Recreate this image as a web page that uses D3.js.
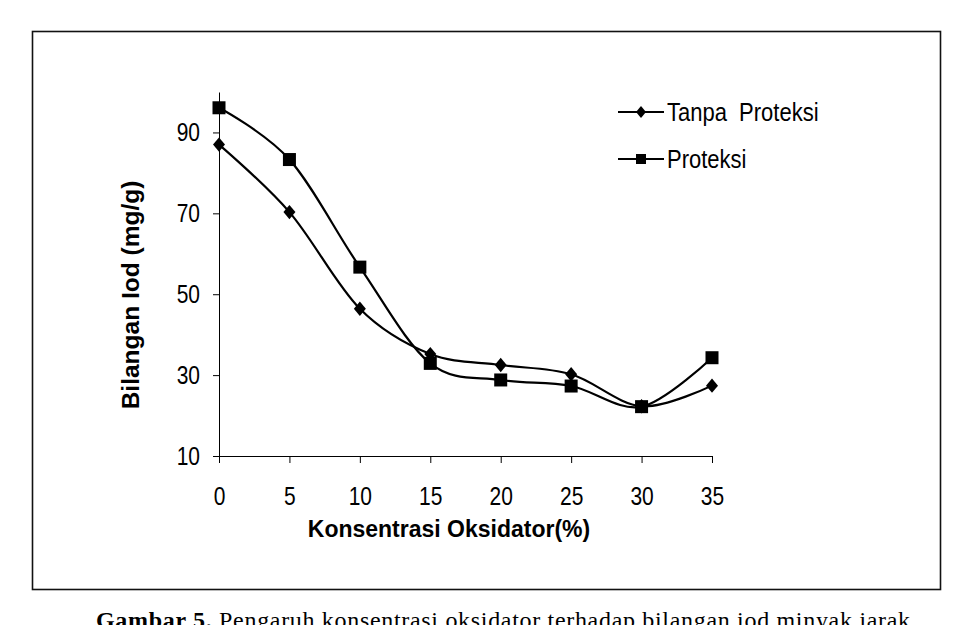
<!DOCTYPE html>
<html>
<head>
<meta charset="utf-8">
<script src="https://cdn.jsdelivr.net/npm/d3@7/dist/d3.min.js"></script>
<style>
  body { margin: 0; background: #fff; }
  svg { display: block; }
  text { font-family: Arial, "Liberation Sans", sans-serif; fill: #000; }
</style>
</head>
<body>
<div id="chart"></div>
<script>
// data
var konsentrasi = [0, 5, 10, 15, 20, 25, 30, 35];
var tanpaProteksi = [87.0, 70.3, 46.4, 35.2, 32.5, 30.2, 22.3, 27.4];
var proteksi = [96.1, 83.3, 56.7, 32.9, 28.8, 27.3, 22.2, 34.3];
var yTicks = [10, 30, 50, 70, 90];
var xTicks = [0, 5, 10, 15, 20, 25, 30, 35];
var seriesNames = ["Tanpa  Proteksi", "Proteksi"];

var width = 968, height = 625;
var plot = {left: 219, right: 712, top: 92, bottom: 456};
var squeeze = 0.84; // the original text is tall and a bit condensed

var svg = d3.select("#chart").append("svg")
  .attr("width", width)
  .attr("height", height);

// outer frame
svg.append("rect")
  .attr("x", 32.5).attr("y", 31.5)
  .attr("width", 908).attr("height", 558)
  .attr("fill", "none")
  .attr("stroke", "#111")
  .attr("stroke-width", 1.6);

var x = d3.scaleLinear().domain([0, 35]).range([plot.left, plot.right]);
var y = d3.scaleLinear().domain([10, 100]).range([plot.bottom, plot.top]);

// y axis
var yAxis = svg.append("g")
  .attr("transform", "translate(" + plot.left + ",0)")
  .call(d3.axisLeft(y).tickValues(yTicks).tickSize(6).tickPadding(13).tickSizeOuter(0));
yAxis.select(".domain").attr("stroke", "#000");
yAxis.selectAll(".tick line").attr("stroke", "#000");
yAxis.selectAll(".tick text")
  .attr("font-size", 25)
  .attr("x", null)
  .attr("transform", "translate(-19,0) scale(" + squeeze + ",1)");

// x axis
var xAxis = svg.append("g")
  .attr("transform", "translate(0," + plot.bottom + ")")
  .call(d3.axisBottom(x).tickValues(xTicks).tickSize(7).tickPadding(24).tickSizeOuter(0));
xAxis.select(".domain").attr("stroke", "#000");
xAxis.selectAll(".tick line").attr("stroke", "#000");
xAxis.selectAll(".tick text")
  .attr("font-size", 25)
  .attr("transform", "scale(" + squeeze + ",1)");

// axis titles
svg.append("text")
  .attr("x", 449)
  .attr("y", 537)
  .attr("text-anchor", "middle")
  .attr("font-size", 23)
  .attr("font-weight", "bold")
  .text("Konsentrasi Oksidator(%)");

svg.append("text")
  .attr("transform", "translate(139,295) rotate(-90)")
  .attr("text-anchor", "middle")
  .attr("font-size", 24.5)
  .attr("font-weight", "bold")
  .text("Bilangan Iod (mg/g)");

// smoothed lines, like the spreadsheet's smoothing
var line = d3.line()
  .x(function(d) { return x(d[0]); })
  .y(function(d) { return y(d[1]); })
  .curve(d3.curveCatmullRom.alpha(0));

var series = [
  {name: seriesNames[0], values: tanpaProteksi, shape: "diamond"},
  {name: seriesNames[1], values: proteksi, shape: "square"}
];

function marker(g, shape, cx, cy, s) {
  if (shape === "diamond") {
    g.append("path")
      .attr("d", "M" + cx + "," + (cy - s * 0.6) + "L" + (cx + s * 0.5) + "," + cy +
        "L" + cx + "," + (cy + s * 0.6) + "L" + (cx - s * 0.5) + "," + cy + "Z")
      .attr("fill", "#000");
  } else {
    g.append("rect")
      .attr("x", cx - s / 2).attr("y", cy - s / 2)
      .attr("width", s).attr("height", s)
      .attr("fill", "#000");
  }
}

series.forEach(function(s) {
  var pts = konsentrasi.map(function(k, i) { return [k, s.values[i]]; });
  svg.append("path")
    .datum(pts)
    .attr("d", line)
    .attr("fill", "none")
    .attr("stroke", "#000")
    .attr("stroke-width", 2.2);
  var mg = svg.append("g");
  pts.forEach(function(p) {
    marker(mg, s.shape, x(p[0]), y(p[1]), s.shape === "diamond" ? 12 : 13);
  });
});

// legend
var legend = svg.append("g");
series.forEach(function(s, i) {
  var ly = 112 + i * 47;
  legend.append("line")
    .attr("x1", 618).attr("x2", 664)
    .attr("y1", ly).attr("y2", ly)
    .attr("stroke", "#000").attr("stroke-width", 2.2);
  marker(legend, s.shape, 641, ly, 10);
  legend.append("text")
    .attr("transform", "translate(667," + (ly + 9) + ") scale(0.88,1)")
    .attr("font-size", 25)
    .style("white-space", "pre")
    .text(s.name);
});

// caption under the frame (cut off by the page edge)
var serif = "'Liberation Serif', 'Times New Roman', serif";
var cap = svg.append("text")
  .attr("x", 96).attr("y", 628)
  .attr("font-family", serif)
  .attr("font-size", 24)
  .attr("textLength", 814)
  .attr("lengthAdjust", "spacing");
cap.append("tspan").attr("font-weight", "bold")
  .style("font-family", serif)
  .text("Gambar 5.");
cap.append("tspan")
  .style("font-family", serif)
  .text(" Pengaruh konsentrasi oksidator terhadap bilangan iod minyak jarak");
</script>
</body>
</html>
